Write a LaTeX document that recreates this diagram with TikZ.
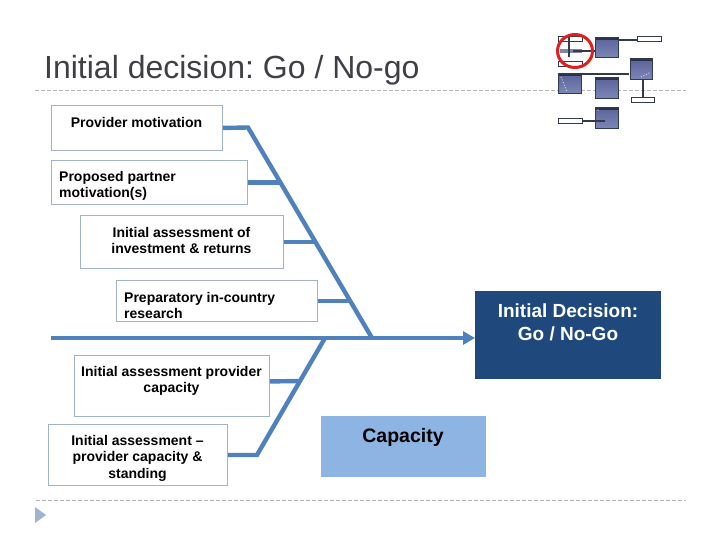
\documentclass[tikz,border=0pt]{standalone}
\usepackage{fontspec}
\setmainfont{Liberation Sans}
\usetikzlibrary{calc,arrows.meta}
\definecolor{bone}{HTML}{4F81BD}
\definecolor{boxline}{HTML}{A3B3C7}
\definecolor{decblue}{HTML}{1F497D}
\definecolor{capblue}{HTML}{8EB4E3}
\definecolor{titlegray}{HTML}{3F3F46}
\definecolor{dashgray}{HTML}{B4B4B4}
\definecolor{bulletblue}{HTML}{A0B4D2}
\definecolor{iconhead}{HTML}{2A3348}
\definecolor{icontop}{HTML}{59639A}
\definecolor{iconbot}{HTML}{7C86B6}
\definecolor{iconln}{HTML}{323A4E}
\definecolor{ringred}{HTML}{E01E1E}
\frenchspacing
\begin{document}
\begin{tikzpicture}[x=1pt,y=-1pt,
  fbox/.style={draw=boxline, line width=0.9pt, fill=white, anchor=north west, inner sep=0},
  lbl/.style={inner sep=0, font=\bfseries\fontsize{14}{16.6}\selectfont, text=black},
  bonestyle/.style={draw=bone, line width=4.4pt},
  dashline/.style={draw=dashgray, line width=0.8pt, dash pattern=on 4pt off 2pt},
  iconbox/.style={draw=iconln, line width=0.6pt, top color=icontop, bottom color=iconbot, anchor=north west, inner sep=0, minimum width=23, minimum height=20,
    path picture={\fill[iconhead] (path picture bounding box.north west) rectangle ([yshift=-3pt]path picture bounding box.north east);}},
  wbox/.style={draw=iconln, line width=0.6pt, fill=white, anchor=north west, inner sep=0, minimum width=24, minimum height=5},
  iconline/.style={draw=iconln, line width=1.6pt}
]
\useasboundingbox (0,0) rectangle (720,540);
\fill[white] (0,0) rectangle (720,540);

% title and separators
\node[anchor=base west, inner sep=0, font=\fontsize{32}{38}\selectfont, text=titlegray] (title) at (44,79) {Initial decision: Go / No-go};
\coordinate (dtl) at (35,90); \coordinate (dtr) at (686,90);
\coordinate (dbl) at (36,500); \coordinate (dbr) at (686,500);
\draw[dashline] (dtl) -- (dtr);
\draw[dashline] (dbl) -- (dbr);
\fill[bulletblue] (35,507) -- (46,515) -- (35,523) -- cycle;

% cause boxes
\node[fbox, minimum width=171, minimum height=45] (b1) at (51,105) {};
\node[fbox, minimum width=196, minimum height=44] (b2) at (51,160) {};
\node[fbox, minimum width=203, minimum height=53] (b3) at (80,215) {};
\node[fbox, minimum width=201, minimum height=41] (b4) at (116,280) {};
\node[fbox, minimum width=195, minimum height=61] (b5) at (74,355) {};
\node[fbox, minimum width=179, minimum height=61] (b6) at (48,424) {};

\node[lbl, anchor=north] (t1) at (136.5,117) {Provider motivation};
\node[lbl, anchor=north west, align=left] (t2) at (59,171) {Proposed partner\\motivation(s)};
\node[lbl, anchor=north, align=center] (t3) at (181.5,227) {Initial assessment of\\investment \& returns};
\node[lbl, anchor=north west, align=left] (t4) at (124,292) {Preparatory in-country\\research};
\node[lbl, anchor=north, align=center] (t5) at (171.5,366) {Initial assessment provider\\capacity};
\node[lbl, anchor=north, align=center] (t6) at (137.5,435) {Initial assessment --\\provider capacity \&\\standing};

% effect boxes
\node[fill=decblue, anchor=north west, inner sep=0, minimum width=186, minimum height=88] (dec) at (475,291) {};
\node[inner sep=0, anchor=north, align=center, text=white, font=\bfseries\fontsize{19}{23}\selectfont] (dect) at (568,304) {Initial Decision:\\Go / No-Go};
\node[fill=capblue, anchor=north west, inner sep=0, minimum width=165, minimum height=61] (cap) at (321,416) {};
\node[inner sep=0, anchor=north, text=black, font=\bfseries\fontsize{19.5}{23}\selectfont] (capt) at (403,428.5) {Capacity};

% fishbone
\coordinate (s0) at (51,338);
\coordinate (u0) at (248,127.5);
\coordinate (u1) at (372,338);
\coordinate (l0) at (325,338);
\coordinate (p2) at ($(u0)!0.261!(u1)$);
\coordinate (p3) at ($(u0)!0.545!(u1)$);
\coordinate (p4) at ($(u0)!0.825!(u1)$);
\coordinate (q5) at (300,381);
\coordinate (l1) at (257,455);

\draw[bonestyle, -{Triangle[length=12pt,width=13pt]}] (s0) -- (s0 -| dec.west);
\draw[bonestyle] (b1.east) -- (u0) -- (u1);
\draw[bonestyle] (b2.east) -- (b2.east -| p2);
\draw[bonestyle] (b3.east) -- (b3.east -| p3);
\draw[bonestyle] (b4.east) -- (b4.east -| p4);
\draw[bonestyle] (b6.east) -- (b6.east -| l1) -- (l0);
\draw[bonestyle] ([yshift=4.5pt]b5.east) -- (q5);

% decorative icon (top right)
\node[iconbox] (iA) at (595,37) {};
\node[iconbox, minimum width=22, minimum height=21] (iB) at (630,58) {};
\node[iconbox] (iC) at (558,73) {};
\node[iconbox, minimum height=21] (iD) at (595,77) {};
\node[iconbox, minimum height=21] (iE) at (595,107) {};
\node[wbox] (iW1) at (637,36) {};
\node[wbox, minimum width=23] (iW2) at (631,97) {};
\node[wbox] (iW3) at (558,118) {};
\node[wbox] (iW4) at (558,36) {};
\node[wbox] (iW5) at (558,61) {};
\node[fill=iconbot!80!gray, anchor=north west, inner sep=0, minimum width=22, minimum height=4] (iBar) at (560,49) {};
\coordinate (iV0) at (569,37); \coordinate (iV1) at (569,57);
\draw[iconline] (iV0) -- (iV1);
\draw[iconline] (iBar.east) ++(-9,0) -- (iBar.east -| iA.west);
\draw[iconline] ([yshift=-3pt]iA.north east) -- ([yshift=-3pt]iA.north east -| iW1.west);
\draw[iconline] ([xshift=-1pt,yshift=-1pt]iC.north east) -- ([xshift=-1pt,yshift=-1pt]iC.north east -| iB.west);
\draw[iconline] (iW2.north |- iB.south) -- (iW2.north);
\draw[iconline] (iW3.east) -- ([xshift=10pt]iW3.east -| iE.west);
\draw[white, line width=0.8pt, dotted] (561,77) -- (567,92);
\draw[white, line width=0.8pt, dotted] (641,77) -- (651,72);
\fill[white] (598,110) circle (0.6);
\draw[ringred, line width=3pt] (575,51) ellipse [x radius=17.5, y radius=16.5];
\end{tikzpicture}
\end{document}
